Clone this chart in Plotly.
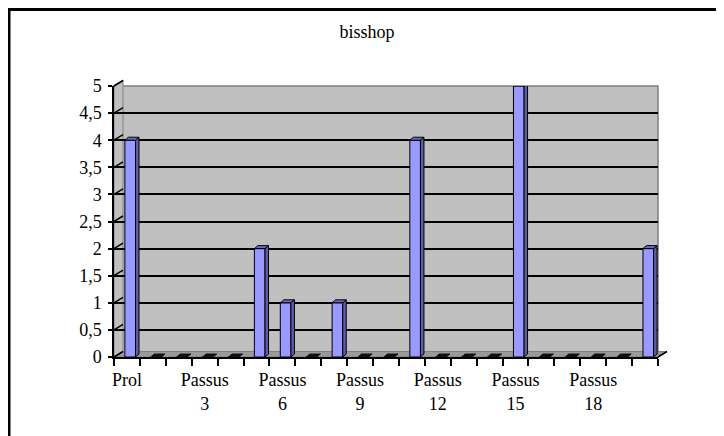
import plotly.graph_objects as go

categories = ["Prol"] + [f"Passus {i}" for i in range(1, 21)]
values = [4, 0, 0, 0, 0, 2, 1, 0, 1, 0, 0, 4, 0, 0, 0, 5, 0, 0, 0, 0, 2]
label_every = 3
y_ticks = [0, 0.5, 1, 1.5, 2, 2.5, 3, 3.5, 4, 4.5, 5]
title = "bisshop"

PAGE_OFF = 8                     # default body margin of the html page
W, H = 724 - PAGE_OFF, 436 - PAGE_OFF
S_LEFT, S_RIGHT_BACK, S_TOP_BACK, S_BOTTOM = 114, 667, 80, 357
L = S_LEFT - PAGE_OFF
R = W - (S_RIGHT_BACK - PAGE_OFF)
T = S_TOP_BACK - PAGE_OFF
B = H - (S_BOTTOM - PAGE_OFF)
PW, PH = W - L - R, H - T - B
DX_PX, DY_PX = 9, 5.5
FRONT_W = PW - DX_PX
FRONT_H = PH - DY_PX - 0.5

n = len(categories)
x_idx = list(range(n))
FONT = "Liberation Serif"

def px(xs):
    return (xs - PAGE_OFF - L) / PW

def py(ys):
    return (S_BOTTOM - ys) / PH

off, bw = -0.08, 0.41
ddx, ddy = 0.135, 0.055

fig = go.Figure()

fig.add_trace(go.Bar(
    x=x_idx, y=values, offset=off, width=bw,
    marker=dict(color="#9999FF", line=dict(color="black", width=1)),
    xaxis="x", yaxis="y", showlegend=False, hoverinfo="skip"))

sx, sy, tx, ty, zx, zy = [], [], [], [], [], []
for i, v in zip(x_idx, values):
    x0, x1 = i + off, i + off + bw
    if v > 0:
        sx += [x1, x1 + ddx, x1 + ddx, x1, x1, None]
        sy += [0, ddy, v + ddy, v, 0, None]
        tx += [x0, x1, x1 + ddx, x0 + ddx, x0, None]
        ty += [v, v, v + ddy, v + ddy, v, None]
    else:
        zx += [x0, x1, x1 + ddx, x0 + ddx, x0, None]
        zy += [v, v, v + ddy, v + ddy, v, None]

fig.add_trace(go.Scatter(x=sx, y=sy, mode="lines", fill="toself",
                         fillcolor="#5c5ca8", line=dict(color="black", width=1),
                         xaxis="x", yaxis="y", showlegend=False, hoverinfo="skip"))
fig.add_trace(go.Scatter(x=tx, y=ty, mode="lines", fill="toself",
                         fillcolor="#6b6bc0", line=dict(color="black", width=1),
                         xaxis="x", yaxis="y", showlegend=False, hoverinfo="skip"))
fig.add_trace(go.Scatter(x=zx, y=zy, mode="lines", fill="toself",
                         fillcolor="#111111", line=dict(color="#111111", width=1),
                         xaxis="x", yaxis="y", showlegend=False, hoverinfo="skip"))

fig.add_trace(go.Scatter(x=[x_idx[0]], y=[0], mode="markers", marker=dict(opacity=0),
                         xaxis="x2", yaxis="y2", showlegend=False, hoverinfo="skip"))

tick_x = [i for i in x_idx if i % label_every == 0]
tick_text = [categories[i].replace(" ", "<br>") for i in tick_x]
bounds = [i - 0.5 for i in x_idx] + [x_idx[-1] + 0.5]

shapes = []
# outer frame (left and top edges; right/bottom fall outside the window)
shapes.append(dict(type="line", xref="paper", yref="paper",
                   x0=px(9), x1=px(9), y0=py(9), y1=py(440),
                   line=dict(color="black", width=3), layer="above"))
shapes.append(dict(type="line", xref="paper", yref="paper",
                   x0=px(8), x1=px(730), y0=py(9.5), y1=py(9.5),
                   line=dict(color="black", width=3), layer="above"))
shapes.append(dict(type="rect", xref="x2 domain", yref="y2 domain", x0=0, x1=1, y0=0, y1=1,
                   fillcolor="#C0C0C0", line=dict(color="#808080", width=1.5), layer="below"))
x_l, x_lb = S_LEFT, S_LEFT + DX_PX
x_rf, x_rb = S_LEFT + FRONT_W, S_RIGHT_BACK
y_f, y_b = S_BOTTOM, S_BOTTOM - DY_PX
shapes.append(dict(type="path", xref="paper", yref="paper",
                   path=f"M {px(x_l)},{py(y_f)} L {px(x_lb)},{py(y_b)} L {px(x_lb)},{py(S_TOP_BACK)} L {px(x_l)},{py(S_TOP_BACK + DY_PX)} Z",
                   fillcolor="#C0C0C0", line=dict(color="#808080", width=1), layer="below"))
shapes.append(dict(type="path", xref="paper", yref="paper",
                   path=f"M {px(x_l)},{py(y_f)} L {px(x_rf)},{py(y_f)} L {px(x_rb)},{py(y_b)} L {px(x_lb)},{py(y_b)} Z",
                   fillcolor="#9a9a9a", line=dict(color="#808080", width=1), layer="below"))
for t in y_ticks:
    yp = S_BOTTOM - t / y_ticks[-1] * FRONT_H
    shapes.append(dict(type="line", xref="paper", yref="paper",
                       x0=px(x_l), y0=py(yp), x1=px(x_lb), y1=py(yp - DY_PX),
                       line=dict(color="black", width=1.5), layer="above" if t == 0 else "below"))
shapes.append(dict(type="line", xref="paper", yref="paper",
                   x0=px(x_rf), y0=py(y_f), x1=px(x_rb), y1=py(y_b),
                   line=dict(color="black", width=1.5)))

fig.update_layout(
    width=W, height=H,
    margin=dict(l=L, r=R, t=T, b=B, pad=0),
    paper_bgcolor="white", plot_bgcolor="rgba(0,0,0,0)",
    separators=", ",
    font=dict(family=FONT, size=18, color="black"),
    title=dict(text=title, x=(367 - PAGE_OFF) / W, y=1 - (32 - PAGE_OFF) / H,
               xanchor="center", yanchor="middle",
               font=dict(family=FONT, size=18, color="black")),
    showlegend=False,
    xaxis=dict(domain=[0, FRONT_W / PW], range=[-0.5, n - 0.5], tickmode="array",
               tickvals=tick_x, ticktext=tick_text, ticks="", showgrid=False, zeroline=False,
               showline=True, linecolor="black", linewidth=1.5, ticklabelstandoff=6,
               tickfont=dict(family=FONT, size=18, color="black"),
               minor=dict(tickmode="array", tickvals=bounds, ticks="outside", ticklen=7,
                          tickcolor="black", tickwidth=1.5, showgrid=False),
               fixedrange=True),
    yaxis=dict(domain=[0, FRONT_H / PH], range=[0, y_ticks[-1]], tickmode="array",
               tickvals=y_ticks, ticks="outside", ticklen=4, tickwidth=1.5, tickcolor="black",
               tickfont=dict(family=FONT, size=18, color="black"),
               showgrid=False, zeroline=False, showline=True, linecolor="black", linewidth=1.5,
               ticklabelstandoff=3, fixedrange=True),
    xaxis2=dict(domain=[DX_PX / PW, 1], range=[-0.5, n - 0.5], overlaying="x",
                showticklabels=False, ticks="", showgrid=False, zeroline=False, showline=False,
                anchor="y2", fixedrange=True),
    yaxis2=dict(domain=[DY_PX / PH, 1], range=[0, y_ticks[-1]], overlaying="y",
                tickmode="array", tickvals=y_ticks, showticklabels=False, ticks="",
                showgrid=True, gridcolor="black", gridwidth=1.5, zeroline=False,
                showline=False, anchor="x2", fixedrange=True),
    shapes=shapes,
)

fig.write_html("out.html")
